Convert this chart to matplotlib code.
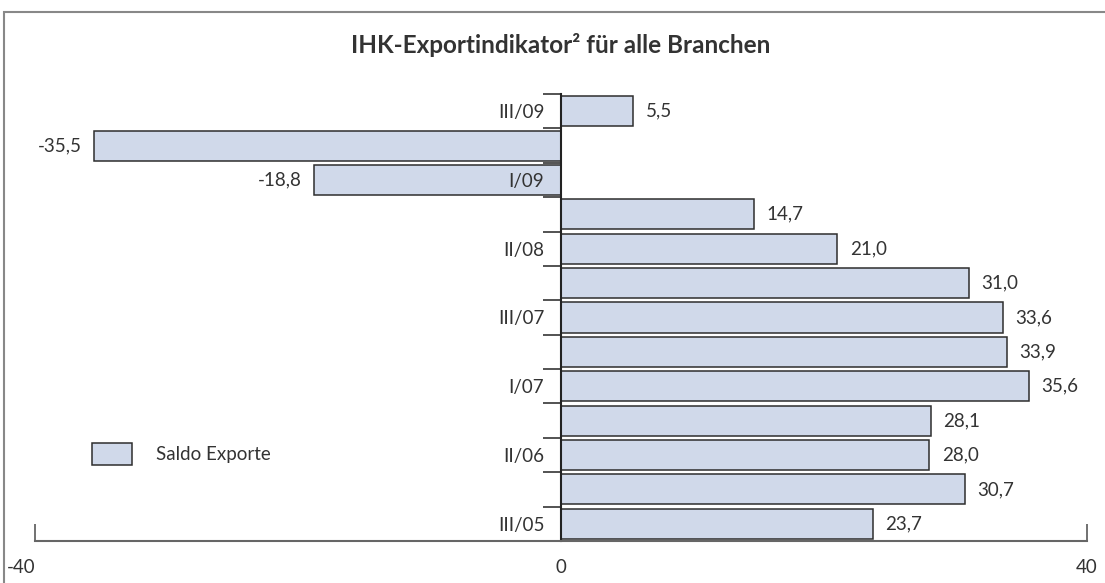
import matplotlib
matplotlib.use("Agg")
import matplotlib.pyplot as plt
from matplotlib.patches import Rectangle, Patch

# Umfragequartale (unten -> oben) und Saldo Exporte
quarters = ["III/05", "I/06", "II/06", "III/06", "I/07", "II/07", "III/07",
            "I/08", "II/08", "III/08", "I/09", "II/09", "III/09"]
saldo = [23.7, 30.7, 28.0, 28.1, 35.6, 33.9, 33.6, 31.0, 21.0, 14.7, -18.8, -35.5, 5.5]
shown_labels = ["III/05", "II/06", "I/07", "III/07", "II/08", "I/09", "III/09"]
x_ticks = [-40, 0, 40]

plt.rcParams["font.family"] = ["Lato", "DejaVu Sans"]
text_col = "#333333"
bar_col = "#d0d9ea"
fs = 13.5

W, H = 1105, 583
fig = plt.figure(figsize=(W / 100, H / 100), dpi=100)
ax = fig.add_axes([35 / W, 42 / H, 1052 / W, 447 / H])

pos = list(range(len(quarters)))
bars = ax.barh(pos, saldo, height=0.875, color=bar_col, edgecolor="#2e2e2e", lw=1.1)

ax.set_xlim(-40, 40)
ax.set_ylim(-0.5, len(quarters) - 0.5)

# Wertbeschriftung mit Dezimalkomma
ax.bar_label(bars, labels=[f"{v:.1f}".replace(".", ",") for v in saldo],
             padding=9, fontsize=fs, color=text_col)

# y-Achse bei 0
for s in ["top", "right"]:
    ax.spines[s].set_visible(False)
ax.spines["left"].set_position(("data", 0))
ax.spines["left"].set_color("#222222")
ax.spines["left"].set_linewidth(1.5)
ax.spines["bottom"].set_color("#666666")
ax.spines["bottom"].set_linewidth(1.5)

ax.set_yticks(pos)
ax.set_yticklabels([q if q in shown_labels else "" for q in quarters])
ax.set_yticks([p - 0.5 for p in pos] + [pos[-1] + 0.5], minor=True)
ax.tick_params(axis="y", which="major", length=0, pad=12, labelsize=fs, labelcolor=text_col)
ax.tick_params(axis="y", which="minor", length=13, width=1.3, color="#444444", direction="out")

ax.set_xticks(x_ticks)
ax.set_xticklabels([str(t) for t in x_ticks])
ax.tick_params(axis="x", which="major", length=12, width=1.3, color="#666666",
               direction="in", pad=13, labelsize=fs, labelcolor=text_col)
ax.get_xticklabels()[0].set_ha("right")

# Legende
fig.legend(handles=[Patch(facecolor=bar_col, edgecolor="#2e2e2e", lw=1.1)],
           labels=["Saldo Exporte"], loc="center left",
           bbox_to_anchor=(92 / W, 1 - 454 / H), frameon=False,
           borderpad=0, borderaxespad=0, handlelength=2.13, handleheight=1.44,
           handletextpad=1.28, fontsize=fs, labelcolor=text_col)

fig.text(561 / W, 1 - 45 / H, "IHK-Exportindikator² für alle Branchen",
         ha="center", va="center", fontsize=17.5, fontweight="bold", color=text_col)

# Rahmen
fig.patches.append(Rectangle((4 / W, -0.1), 1.2, (H - 12) / H + 0.1,
                             transform=fig.transFigure, fill=False,
                             ec="#888888", lw=1.5))

fig.savefig("out.png", dpi=100)
